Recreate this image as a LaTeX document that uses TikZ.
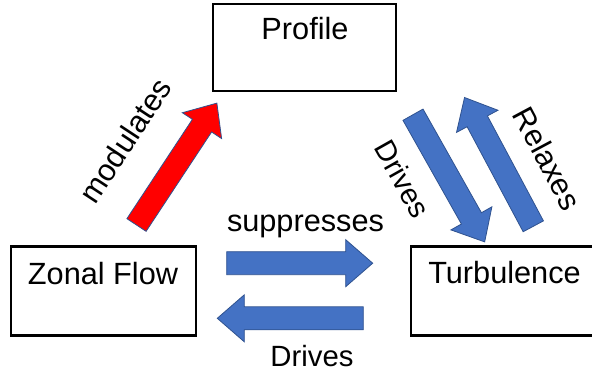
\documentclass[tikz,border=0pt]{standalone}
\usepackage{fontspec}
\setmainfont{Liberation Sans}
\definecolor{arrowblue}{HTML}{4472C4}
\definecolor{edgeblue}{HTML}{2F528F}
\definecolor{arrowred}{HTML}{FF0000}
\tikzset{
  box/.style={draw=black, line width=2.6pt, fill=white, inner sep=0pt},
  lbl/.style={inner sep=0pt, font=\fontsize{30.7}{36}\selectfont},
  smalllbl/.style={inner sep=0pt, font=\fontsize{29.3}{34}\selectfont},
  bluearrow/.style={fill=arrowblue, draw=edgeblue, line width=0.8pt},
  redarrow/.style={fill=arrowred, draw=edgeblue, line width=0.8pt},
  blockarrow/.pic={
    \path[pic actions] (0,-11.5) -- (119,-11.5) -- (119,-23.5) -- (146,0)
      -- (119,23.5) -- (119,11.5) -- (0,11.5) -- cycle;
  }
}
\begin{document}
\begin{tikzpicture}[x=1pt, y=-1pt]
  \clip (0,0) rectangle (592,372);

  % boxes
  \node[box, minimum width=183pt, minimum height=87pt] (profile) at (304.5,47.5) {};
  \node[box, minimum width=185pt, minimum height=89pt] (zonal) at (103.5,291) {};
  \node[box, minimum width=185pt, minimum height=89pt] (turb) at (503.5,291) {};

  \node[lbl, anchor=base] (profiletxt) at (305,39.3) {Profile};
  \node[lbl, anchor=base] (zonaltxt) at (103,284) {Zonal Flow};
  \node[lbl, anchor=base] (turbtxt) at (504.5,283.5) {Turbulence};

  % block arrows
  \pic[redarrow, rotate=56.6] (modarrow) at (136.5,225) {blockarrow};
  \pic[bluearrow, rotate=-60.6] (drivedown) at (413,114.7) {blockarrow};
  \pic[bluearrow, rotate=118.1] (relaxup) at (533.3,226.3) {blockarrow};
  \pic[bluearrow] (suparrow) at (226.7,263.2) {blockarrow};
  \pic[bluearrow, rotate=180] (driveleft) at (363.3,318.3) {blockarrow};

  % arrow labels
  \node[lbl, anchor=base] (suptxt) at (305.5,231.7) {suppresses};
  \node[smalllbl, anchor=base] (drivebot) at (312,366.7) {Drives};
  \node[lbl, rotate=56.6] (modtxt) at (125,140.5) {modulates};
  \node[smalllbl, rotate=-60.6] (drivetxt) at (402.5,179) {Drives};
  \node[lbl, rotate=-61.9] (relaxtxt) at (547.5,158.5) {Relaxes};
\end{tikzpicture}
\end{document}
